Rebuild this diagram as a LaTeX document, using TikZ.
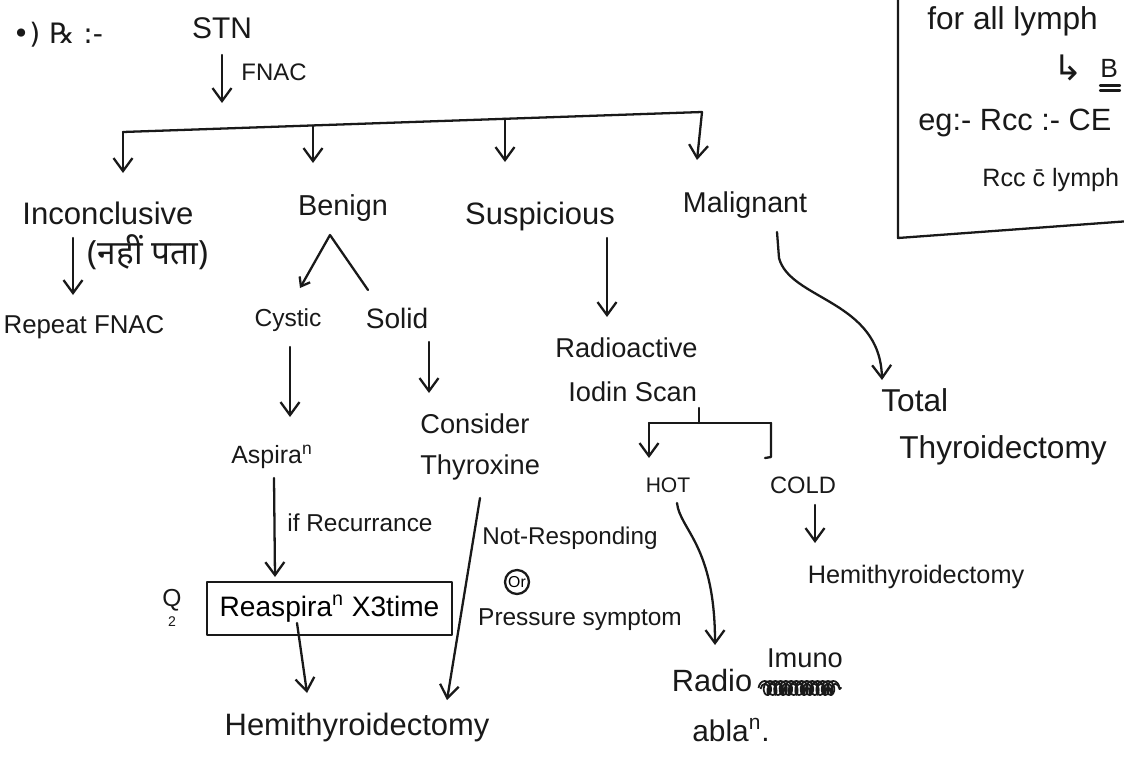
\documentclass[tikz,border=0pt]{standalone}
\usepackage{fontspec}
\setmainfont{Liberation Sans}
\newfontfamily\dejavu{DejaVu Sans}
\newfontfamily\devfont[Script=Devanagari]{Noto Sans}
\usetikzlibrary{arrows.meta,calc,decorations.pathmorphing}
\begin{document}
\begin{tikzpicture}[x=0.02cm,y=-0.02cm,
  ink/.style={line width=1.3pt, line cap=round, line join=round, draw=black!90},
  arr/.style={ink, -{Straight Barb[length=2.6mm,width=3.8mm]}},
  txt/.style={inner sep=0pt, text=black!90},
  fs/.style={font=\fontsize{#1}{#1}\selectfont},
]
\fill[white] (0,0) rectangle (1124,767);
\useasboundingbox (0,0) rectangle (1124,767);
\clip (0,0) rectangle (1124,767);

% ---- nodes ----
\node[txt,font=\dejavu\fontsize{16}{16}\selectfont] (rx) at (58,35) {•) ℞ :-};
\node[txt,fs=17] (stn) at (222,28) {STN};
\node[txt,fs=13.6] (fnac) at (274,72) {FNAC};
\node[txt,fs=17.7] (inc) at (108,213) {Inconclusive};
\node[txt,font=\devfont\fontsize{19}{19}\selectfont] (hindi) at (148,252) {(नहीं पता)};
\node[txt,fs=14.7] (rep) at (84,327) {Repeat FNAC};
\node[txt,fs=16.4] (ben) at (343,208) {Benign};
\node[txt,fs=17.6] (sus) at (540,217) {Suspicious};
\node[txt,fs=16.3] (mal) at (745,205) {Malignant};
\node[txt,fs=14] (cys) at (288,320) {Cystic};
\node[txt,fs=16] (sol) at (397,318) {Solid};
\node[txt,fs=14.2] (asp) at (272,457) {Aspira\textsuperscript{n}};
\node[txt,fs=13.9] (rec) at (360,523) {if Recurrance};
\node[txt,align=left,anchor=west,font=\fontsize{15.5}{23.3}\selectfont] (thy) at (420,447) {Consider\\Thyroxine};
\node[txt,fs=13.8] (nr) at (570,538) {Not-Responding};
\node[ink,circle,inner sep=0pt,minimum size=0.48cm,fs=9] (or) at (517,582) {Or};
\node[txt,fs=13.9] (ps) at (580,620) {Pressure symptom};
\node[txt,fs=14] (q) at (172,600) {Q};
\node[txt,fs=8] (q2) at (172,622) {2};
\node[ink,rectangle,minimum width=4.9cm,minimum height=1.06cm,inner sep=0pt,fs=16] (rsp) at (329.5,608.5) {Reaspira\textsuperscript{n} X3time};
\node[txt,fs=17.6] (hem1) at (357,727) {Hemithyroidectomy};
\node[txt,align=left,anchor=west,font=\fontsize{15.5}{25}\selectfont] (ris) at (555,370) {Radioactive\\\hspace{0.26cm}Iodin Scan};
\node[txt,fs=12] (hot) at (668,485) {HOT};
\node[txt,fs=13.5] (cold) at (803,485) {COLD};
\node[txt,fs=14.4] (hem2) at (916,577) {Hemithyroidectomy};
\node[txt,fs=17.5] (radio) at (712,680) {Radio};
\node[txt,fs=15.5] (imuno) at (805,658) {Imuno};
\node[txt,fs=17] (abla) at (731,730) {abla\textsuperscript{n}.};
\node[txt,align=left,anchor=west,font=\fontsize{18}{26.8}\selectfont] (tot) at (881,427) {Total\\\hspace{0.36cm}Thyroidectomy};

% ---- box at top right ----
\draw[ink] (898,-10) -- (898,238) -- (1130,221);
\node[txt,fs=18,anchor=west] (b1) at (927,21) {for all lymph};
\node[txt,font=\dejavu\fontsize{20}{20}\selectfont,anchor=west] (b2) at (1053,68) {↳};
\node[txt,fs=15,anchor=west] (b3) at (1100,68) {B};
\draw[ink] ($(b3.south west)+(0,8)$) -- ++(20,0);
\draw[ink] ($(b3.south west)+(0,13)$) -- ++(20,0);
\node[txt,fs=17.5,anchor=west] (b4) at (918,123) {eg:- Rcc :- CE};
\node[txt,fs=14.3,anchor=west] (b5) at (982,180) {Rcc \={c} lymph};

% ---- connectors ----
\draw[arr] ($(stn)+(0,27)$) -- ($(stn)+(0,75)$);
\coordinate (barL) at (123,132);
\coordinate (barR) at (702,112);
\coordinate (d2) at (313,125.4);
\coordinate (d3) at (505,118.8);
\draw[ink] (barL) -- (barR);
\draw[arr] (barL) -- ($(inc)+(15,-40)$);
\draw[arr] (d2) -- ($(ben)+(-30,-45)$);
\draw[arr] (d3) -- ($(sus)+(-35,-55)$);
\draw[arr] (barR) -- ($(mal)+(-48,-45)$);

\draw[arr] ($(inc)+(-35,25)$) -- ($(rep)+(-11,-32)$);

\draw[ink,{Straight Barb[length=1.6mm,width=2.4mm]}-] ($(cys)+(12,-32)$) -- ($(ben)+(-13,27)$) -- ($(sol)+(-29,-28)$);
\draw[arr] ($(cys)+(2,27)$) -- ($(asp)+(18,-40)$);
\draw[arr] ($(sol)+(32,24)$) -- ($(sol)+(32,75)$);
\draw[arr] ($(asp)+(2,21)$) -- ($(rsp)+(-54.5,-31.5)$);
\draw[arr] ($(rsp)+(-32.5,14.5)$) -- ($(hem1)+(-50,-34)$);
\draw[arr] ($(thy.west)+(60,51)$) -- ($(hem1)+(90,-27)$);

\draw[arr] ($(sus)+(67,21)$) -- ($(sus)+(67,100)$);
\draw[arr] ($(mal)+(32,27)$) -- ($(mal)+(34,53)$) .. controls ($(mal)+(45,95)$) and ($(mal)+(135,95)$) .. ($(tot.west)+(1,-47)$);

\coordinate (bl) at (649,423);
\coordinate (br) at (771,423);
\draw[ink] ($(ris.west)+(144,38)$) -- ($(ris.west)+(144,53)$);
\draw[ink] (bl) -- (br);
\draw[arr] (bl) -- ($(hot)+(-19,-27)$);
\draw[ink] (br) -- ($(cold)+(-32,-28)$) -- ++(-6,1);
\draw[arr] ($(hot)+(9,18)$) .. controls ($(hot)+(12,45)$) and ($(hot)+(47,60)$) .. ($(radio)+(3,-35)$);
\draw[arr] ($(cold)+(12,20)$) -- ($(cold)+(12,58)$);

% crossed-out word
\draw[line width=1pt,draw=black!90,decorate,decoration={coil,aspect=0.7,segment length=3pt,amplitude=4pt}] ($(radio.east)+(6,8)$) -- ++(83,0);
\draw[line width=1pt,draw=black!90,decorate,decoration={coil,aspect=0.5,segment length=4pt,amplitude=3pt}] ($(radio.east)+(8,9)$) -- ++(80,0);
\end{tikzpicture}
\end{document}
